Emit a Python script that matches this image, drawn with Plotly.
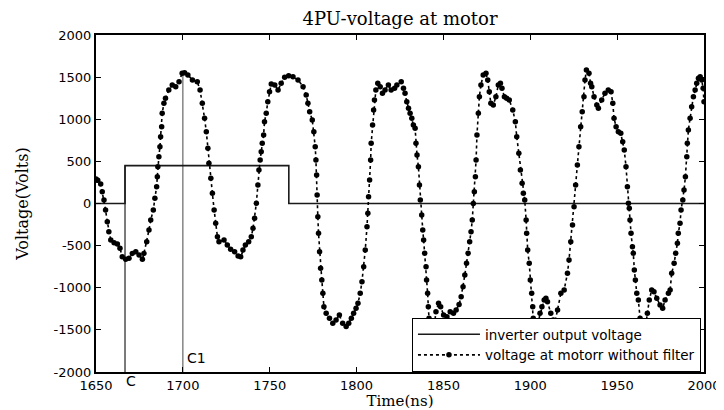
import plotly.graph_objects as go

# ---------------- data ----------------
inverter_time = [1650, 1666.7, 1761, 2000]
inverter_volt = [0, 450, 0, 0]

motor_time = [
    1650.0, 1651.0, 1652.7, 1653.6, 1654.6, 1655.5, 1656.5, 1657.4, 1658.5, 1660.4,
    1662.3, 1663.8, 1665.1, 1667.1, 1669.0, 1670.9, 1672.9, 1674.8, 1676.7, 1677.6,
    1679.2, 1680.5, 1681.5, 1683.0, 1683.9, 1684.9, 1685.3, 1685.6, 1686.2, 1686.8,
    1687.2, 1687.8, 1688.1, 1689.1, 1690.0, 1691.9, 1693.9, 1695.9, 1697.8, 1699.6,
    1701.0, 1702.9, 1705.5, 1708.3, 1709.9, 1711.2, 1712.5, 1713.5, 1714.4, 1715.0,
    1716.1, 1717.0, 1718.0, 1718.9, 1719.9, 1720.8, 1723.7, 1725.6, 1727.5, 1729.8,
    1731.8, 1733.3, 1734.6, 1736.0, 1737.9, 1739.4, 1740.4, 1741.3, 1742.3, 1743.2,
    1743.8, 1744.5, 1745.1, 1745.7, 1746.5, 1747.0, 1748.0, 1748.9, 1749.9, 1750.9,
    1752.9, 1754.8, 1756.6, 1758.6, 1760.9, 1763.4, 1766.3, 1769.2, 1771.0, 1772.0,
    1773.0, 1774.5, 1775.4, 1776.2, 1776.6, 1777.0, 1777.3, 1777.7, 1778.1, 1778.7,
    1779.3, 1780.0, 1780.6, 1781.2, 1782.5, 1784.4, 1786.3, 1788.2, 1790.1, 1792.0,
    1794.0, 1795.5, 1797.0, 1798.3, 1799.7, 1800.8, 1802.1, 1803.1, 1804.1, 1805.0,
    1806.0, 1806.5, 1806.9, 1807.5, 1808.1, 1808.4, 1809.2, 1809.8, 1810.3, 1811.1,
    1812.2, 1813.6, 1814.9, 1816.4, 1818.3, 1819.9, 1821.9, 1823.2, 1825.7, 1827.0,
    1827.9, 1828.9, 1829.9, 1830.8, 1831.8, 1832.7, 1833.7, 1834.2, 1834.8, 1835.6,
    1836.2, 1836.7, 1837.5, 1838.1, 1838.6, 1839.2, 1840.0, 1840.3, 1840.9, 1841.3,
    1841.7, 1842.8, 1844.0, 1845.0, 1845.7, 1847.2, 1848.4, 1850.1, 1852.0, 1853.9,
    1855.8, 1857.3, 1859.0, 1860.2, 1861.3, 1862.3, 1863.3, 1864.2, 1865.1, 1865.9,
    1866.6, 1867.2, 1867.8, 1868.4, 1868.8, 1869.3, 1870.1, 1870.7, 1871.6, 1872.9,
    1874.5, 1875.5, 1876.4, 1877.3, 1878.7, 1880.2, 1881.6, 1882.8, 1883.7, 1885.1,
    1886.4, 1887.9, 1889.9, 1891.4, 1892.2, 1893.4, 1894.3, 1895.3, 1896.0, 1896.8,
    1897.6, 1897.9, 1898.5, 1899.4, 1900.0, 1900.8, 1901.4, 1901.7, 1902.3, 1903.0,
    1903.4, 1904.2, 1905.6, 1906.7, 1908.0, 1909.0, 1909.9, 1911.8, 1913.2, 1914.3,
    1915.7, 1917.6, 1919.5, 1921.4, 1922.3, 1923.3, 1924.3, 1925.2, 1926.1, 1927.1,
    1928.0, 1929.0, 1929.9, 1930.9, 1931.5, 1932.3, 1933.8, 1934.7, 1935.4, 1936.7,
    1938.3, 1939.2, 1941.1, 1943.0, 1944.9, 1946.5, 1947.5, 1948.2, 1949.4, 1950.7,
    1952.1, 1953.2, 1954.1, 1955.1, 1955.9, 1956.5, 1957.0, 1957.4, 1958.0, 1958.8,
    1959.3, 1959.9, 1960.5, 1961.3, 1962.2, 1963.2, 1964.2, 1965.3, 1966.6, 1967.4,
    1968.5, 1969.9, 1971.2, 1972.8, 1974.7, 1976.2, 1977.6, 1979.5, 1980.5, 1981.4,
    1982.8, 1983.7, 1984.7, 1985.2, 1986.2, 1986.8, 1987.8, 1988.5, 1989.3, 1990.1,
    1990.4, 1991.0, 1992.0, 1992.9, 1993.9, 1994.9, 1995.8, 1996.8, 1997.8, 1998.7,
    1999.5, 2000.0,
]
motor_volt = [
    290, 275, 231, 140, 42, -77, -216, -334, -433, -465,
    -481, -532, -631, -663, -651, -592, -572, -611, -663, -592,
    -453, -315, -196, -77, 62, 200, 318, 437, 556, 674,
    793, 912, 1071, 1189, 1249, 1347, 1407, 1387, 1446, 1545,
    1553, 1525, 1466, 1446, 1347, 1189, 1011, 852, 655, 477,
    299, 121, -77, -235, -394, -453, -433, -493, -544, -572,
    -623, -631, -552, -493, -453, -394, -294, -176, 2, 220,
    398, 516, 615, 714, 813, 971, 1071, 1208, 1327, 1418,
    1407, 1347, 1427, 1498, 1517, 1505, 1466, 1387, 1288, 1189,
    1090, 991, 852, 674, 516, 338, 101, -156, -354, -572,
    -770, -908, -1066, -1225, -1304, -1363, -1422, -1383, -1324, -1422,
    -1460, -1422, -1363, -1304, -1244, -1185, -1066, -928, -750, -552,
    -275, -117, 81, 279, 516, 714, 932, 1110, 1229, 1347,
    1427, 1387, 1308, 1347, 1407, 1347, 1367, 1407, 1446, 1367,
    1308, 1208, 1130, 1071, 1011, 932, 892, 714, 576, 437,
    220, 42, -137, -315, -433, -591, -750, -908, -1066, -1225,
    -1363, -1480, -1540, -1403, -1284, -1185, -1225, -1324, -1343, -1284,
    -1304, -1264, -1200, -1106, -987, -850, -710, -591, -453, -334,
    -196, 0, 140, 318, 516, 813, 1071, 1268, 1407, 1525,
    1545, 1466, 1327, 1189, 1169, 1268, 1407, 1427, 1367, 1268,
    1249, 1229, 1110, 971, 793, 596, 398, 240, 121, 42,
    -196, -354, -552, -710, -908, -1066, -1225, -1363, -1462, -1560,
    -1482, -1422, -1304, -1225, -1145, -1125, -1165, -1304, -1383, -1403,
    -1264, -1066, -1027, -829, -671, -453, -255, -38, 220, 457,
    674, 912, 1090, 1268, 1466, 1585, 1545, 1427, 1387, 1268,
    1169, 1130, 1229, 1308, 1347, 1327, 1189, 1011, 912, 852,
    833, 734, 635, 437, 200, 2, -57, -196, -354, -512,
    -591, -789, -908, -1066, -1145, -1363, -1462, -1600, -1422, -1304,
    -1145, -1027, -1047, -1125, -1205, -1244, -1145, -1066, -1027, -829,
    -710, -591, -472, -354, -235, -77, 42, 160, 318, 556,
    714, 872, 1011, 1149, 1268, 1347, 1427, 1486, 1505, 1466,
    1367, 1208,
]

cursor_times = [1666.7, 1700]
cursor_tops = [450, 1553]
cursor_labels = ["C", "C1"]

x_tick_vals = [1650, 1700, 1750, 1800, 1850, 1900, 1950, 2000]
x_tick_text = ["1650", "1700", "1750", "1800", "1850", "1900", "1950", "2000"]
y_tick_vals = [-2000, -1500, -1000, -500, 0, 500, 1000, 1500, 2000]
y_tick_text = ["-2000", "-1500", "-1000", "-500", "0", "500", "1000", "1500", "2000"]

# ---------------- figure ----------------
fig = go.Figure()

# cursor lines C and C1
cursor_colors = ["#222222", "#666666"]
for t, top, col in zip(cursor_times, cursor_tops, cursor_colors):
    fig.add_trace(go.Scatter(
        x=[t, t], y=[y_tick_vals[0], top], mode="lines",
        line=dict(color=col, width=1.2), showlegend=False, hoverinfo="skip"))

fig.add_trace(go.Scatter(
    x=inverter_time, y=inverter_volt, mode="lines", line_shape="hv",
    name="inverter output voltage",
    line=dict(color="#1a1a1a", width=1.6)))

fig.add_trace(go.Scatter(
    x=motor_time, y=motor_volt, mode="lines+markers",
    name="voltage at motorr without filter",
    line=dict(color="black", width=1.6, dash="dot"),
    marker=dict(symbol="circle", size=5.5, color="black")))

# labels for the cursors
fig.add_annotation(x=cursor_times[0] + 3.5, y=-0.028, xref="x", yref="paper",
                   text=cursor_labels[0], showarrow=False,
                   font=dict(family="DejaVu Sans", size=14, color="black"),
                   yanchor="middle")
fig.add_annotation(x=cursor_times[1] + 8, y=-1834, xref="x", yref="y",
                   text=cursor_labels[1], showarrow=False,
                   font=dict(family="DejaVu Sans", size=14, color="black"),
                   yanchor="middle")

axis_common = dict(
    showline=True, linecolor="black", linewidth=2, mirror="ticks",
    ticks="inside", ticklen=5, tickwidth=1, tickcolor="black",
    showgrid=False, zeroline=False, automargin=False,
    tickfont=dict(family="DejaVu Sans", size=13, color="black"),
)

# the page body adds an 8 px offset, so the figure is sized 716x402
fig.update_layout(
    width=716, height=402,
    margin=dict(l=88, r=20, t=27, b=38),
    paper_bgcolor="white", plot_bgcolor="white",
    title=dict(text="4PU-voltage at motor", x=0.5, xref="paper",
               y=1 - 11 / 402, yref="container", yanchor="middle",
               font=dict(family="DejaVu Serif", size=18, color="black")),
    xaxis=dict(range=[1650, 2000], tickvals=x_tick_vals, ticktext=x_tick_text,
               title=dict(text="Time(ns)", standoff=2,
                          font=dict(family="DejaVu Serif", size=15, color="black")),
               **axis_common),
    yaxis=dict(range=[-2000, 2000], tickvals=y_tick_vals, ticktext=y_tick_text,
               title=dict(text="Voltage(Volts)", standoff=21,
                          font=dict(family="DejaVu Serif", size=16, color="black")),
               **axis_common),
    legend=dict(x=0.995, y=0, xanchor="right", yanchor="bottom",
                bgcolor="white", bordercolor="black", borderwidth=1,
                font=dict(family="DejaVu Sans", size=13.5, color="black"),
                itemwidth=62, tracegroupgap=0),
    showlegend=True,
)

fig.write_html("out.html")
